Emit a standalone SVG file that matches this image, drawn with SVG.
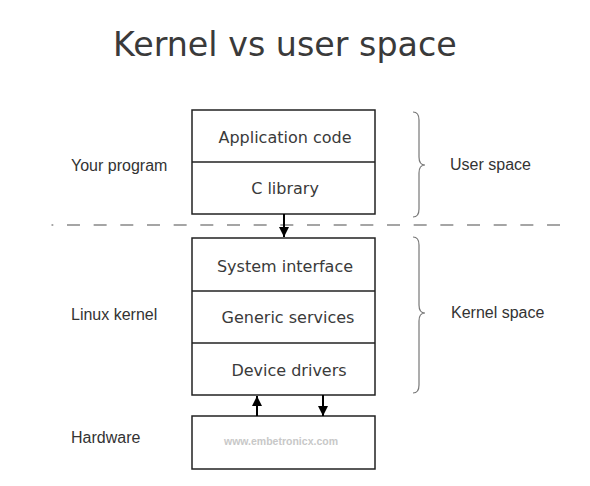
<svg xmlns="http://www.w3.org/2000/svg" width="590" height="486" viewBox="0 0 590 486">
<defs>
<style>
.title{font-family:"DejaVu Sans",Verdana,sans-serif;font-size:33.3px;fill:#3a3a3a}
.box{fill:#fff;stroke:#222;stroke-width:1.5}
.div{stroke:#222;stroke-width:1.5}
.bt{font-family:"DejaVu Sans",Verdana,sans-serif;font-size:16px;fill:#3a3a3a;text-anchor:middle}
.lbl{font-family:"Liberation Sans",Arial,sans-serif;font-size:16px;fill:#333}
.brace{fill:none;stroke:#777;stroke-width:1.2}
.conn{stroke:#000;stroke-width:2;fill:none}
.wm{font-family:"Liberation Sans",Arial,sans-serif;font-size:10.5px;font-weight:bold;fill:#c8c8c8;text-anchor:middle}
</style>
<marker id="ah" viewBox="0 0 10 10" refX="10" refY="5" markerWidth="7" markerHeight="5" markerUnits="strokeWidth" orient="auto">
<path d="M0,0 L10,5 L0,10 z" fill="#000"/>
</marker>
</defs>
<rect width="590" height="486" fill="#fff"/>
<text class="title" x="113" y="56">Kernel vs user space</text>

<line x1="51.5" y1="225" x2="560" y2="225" stroke="#888" stroke-width="1.6" stroke-dasharray="13 13.67" stroke-dashoffset="11.2"/>

<g id="user-box">
<rect class="box" x="192" y="110" width="183" height="104"/>
<line class="div" x1="192" y1="162" x2="375" y2="162"/>
<text class="bt" x="285" y="143">Application code</text>
<text class="bt" x="285" y="194">C library</text>
</g>

<g id="kernel-box">
<rect class="box" x="192" y="238" width="183" height="157"/>
<line class="div" x1="192" y1="291" x2="375" y2="291"/>
<line class="div" x1="192" y1="343" x2="375" y2="343"/>
<text class="bt" x="285" y="272">System interface</text>
<text class="bt" x="288" y="323">Generic services</text>
<text class="bt" x="289" y="376">Device drivers</text>
</g>

<g id="hardware-box">
<rect class="box" x="192" y="416" width="183" height="53"/>
<text class="wm" x="281" y="445">www.embetronicx.com</text>
</g>

<g id="labels">
<text class="lbl" x="71" y="171">Your program</text>
<text class="lbl" x="71" y="320">Linux kernel</text>
<text class="lbl" x="71" y="443">Hardware</text>
<text class="lbl" x="450" y="170">User space</text>
<text class="lbl" x="451" y="318">Kernel space</text>
</g>

<g id="braces">
<path class="brace" d="M413,112 Q419,112 419,120 L419,157 Q419,165 425,165 Q419,165 419,173 L419,209 Q419,217 413,217"/>
<path class="brace" d="M413,237 Q419,237 419,245 L419,305 Q419,313 425,313 Q419,313 419,321 L419,385 Q419,393 413,393"/>
</g>

<g id="connectors">
<line class="conn" x1="284" y1="214" x2="284" y2="237" marker-end="url(#ah)"/>
<line class="conn" x1="257" y1="416" x2="257" y2="396" marker-end="url(#ah)"/>
<line class="conn" x1="323" y1="395" x2="323" y2="416" marker-end="url(#ah)"/>
</g>
</svg>
